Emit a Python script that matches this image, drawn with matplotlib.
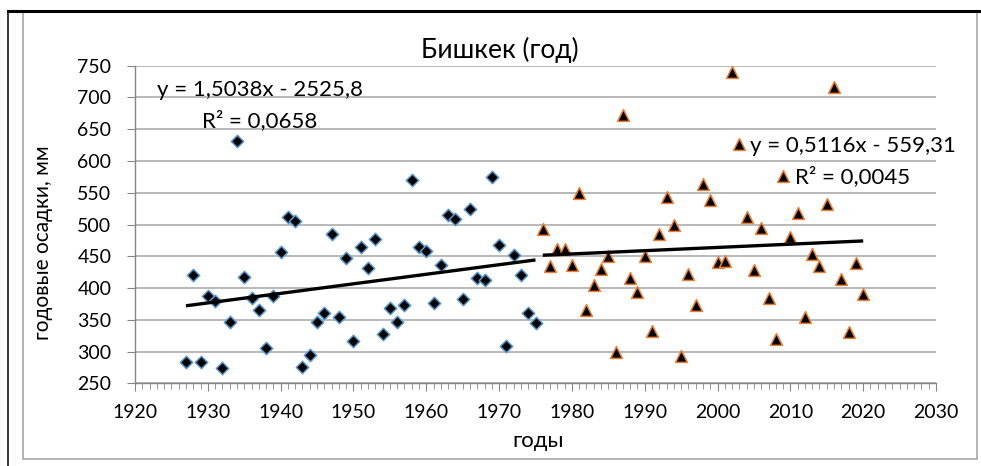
import numpy as np
import matplotlib
matplotlib.use("Agg")
import matplotlib.pyplot as plt
from matplotlib.lines import Line2D
from matplotlib.patches import Rectangle

plt.rcParams['font.family'] = ['Lato', 'DejaVu Sans']

# annual precipitation, Bishkek
years_1 = list(range(1927, 1976))
precip_1 = [283, 421, 283, 388, 379, 274, 346, 632, 418, 384,
            366, 305, 387, 457, 512, 505, 275, 295, 347, 361,
            485, 355, 448, 317, 465, 432, 477, 328, 369, 346,
            374, 570, 465, 458, 376, 437, 515, 508, 383, 524,
            415, 413, 575, 468, 308, 452, 420, 360, 345]

years_2 = list(range(1976, 2021))
precip_2 = [493, 434, 461, 461, 437, 550, 366, 404, 430, 450,
            299, 672, 416, 393, 451, 333, 485, 544, 499, 293,
            422, 374, 563, 539, 441, 443, 740, 626, 512, 428,
            495, 385, 320, 576, 480, 518, 354, 454, 434, 532,
            717, 414, 330, 440, 390]

# linear trends as printed on the chart
slope_1, icpt_1 = 1.5038, -2525.8
slope_2, icpt_2 = 0.5116, -559.31
trend_text_1 = ["y = 1,5038x - 2525,8", "R² = 0,0658"]
trend_text_2 = ["y = 0,5116x - 559,31", "R² = 0,0045"]

title = "Бишкек (год)"
xlabel = "годы"
ylabel = "годовые осадки, мм"

W, H = 981, 466
fig = plt.figure(figsize=(W / 100, H / 100), dpi=100)

def fx(px):
    return px / W

def fy(py):
    return 1 - py / H

# frame lines round the chart
fig.add_artist(Rectangle((fx(23), fy(459)), fx(977) - fx(23), fy(11) - fy(459),
                         transform=fig.transFigure, fill=False,
                         edgecolor='#A0A0A0', lw=1.1))
fig.add_artist(Line2D([fx(8), 1], [fy(11), fy(11)], transform=fig.transFigure,
                      color='black', lw=2.2))
fig.add_artist(Line2D([fx(8), fx(8)], [fy(11), 0], transform=fig.transFigure,
                      color='black', lw=1.1))

ax = fig.add_axes([fx(135), fy(383.3), fx(936) - fx(135), fy(65.7) - fy(383.3)])

ax.scatter(years_1, precip_1, marker='D', s=40, c='black',
           edgecolors='#5B9BD5', linewidths=1.1, zorder=3)
ax.scatter(years_2, precip_2, marker='^', s=72, c='black',
           edgecolors='#ED7D31', linewidths=1.1, zorder=3)

x1 = np.array([years_1[0], years_1[-1]])
x2 = np.array([years_2[0], years_2[-1]])
ax.plot(x1, slope_1 * x1 + icpt_1, color='black', lw=2.4, zorder=4,
        solid_capstyle='butt')
ax.plot(x2, slope_2 * x2 + icpt_2, color='black', lw=2.4, zorder=4,
        solid_capstyle='butt')

ax.set_xlim(1920, 2030)
ax.set_ylim(250, 750)
ax.set_xticks(range(1920, 2031, 10))
ax.set_xticks(range(1920, 2031), minor=True)
ax.set_yticks(range(250, 751, 50))

ax.yaxis.grid(True, color='#B3B3B3', lw=1.3)
ax.set_axisbelow(True)
for side in ['top', 'right']:
    ax.spines[side].set_visible(False)
for side in ['left', 'bottom']:
    ax.spines[side].set_color('#868686')
    ax.spines[side].set_linewidth(1.0)

ax.tick_params(axis='both', which='major', length=6, color='#868686',
               labelsize=14, labelcolor='black')
ax.tick_params(axis='y', pad=11)
ax.tick_params(axis='x', pad=9)
ax.tick_params(axis='x', which='minor', length=4, color='#868686')

fig.text(fx(500), fy(58), title, ha='center', va='baseline', fontsize=19)
fig.text(fx(538), fy(447), xlabel, ha='center', va='baseline', fontsize=16)
fig.text(fx(43), fy(243), ylabel, ha='center', va='center', rotation=90,
         fontsize=15)

fig.text(fx(260), fy(96), trend_text_1[0], ha='center', va='baseline', fontsize=16)
fig.text(fx(260), fy(127), trend_text_1[1], ha='center', va='baseline', fontsize=16)
fig.text(fx(853), fy(152), trend_text_2[0], ha='center', va='baseline', fontsize=16)
fig.text(fx(853), fy(183), trend_text_2[1], ha='center', va='baseline', fontsize=16)

fig.savefig('out.png', dpi=100)
